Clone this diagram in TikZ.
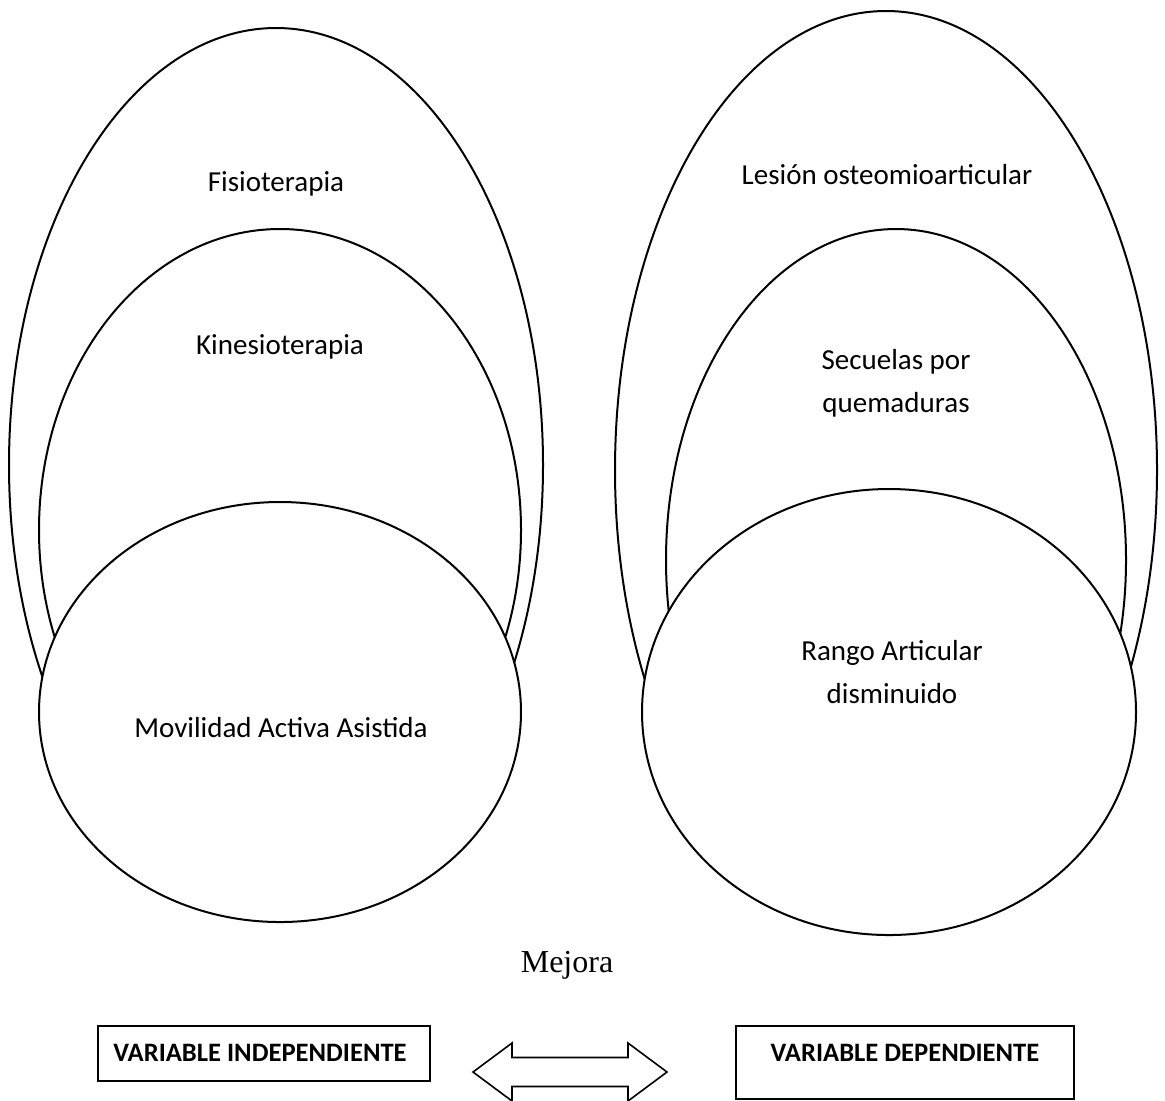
\documentclass[tikz,border=0pt]{standalone}
\usepackage{fontspec}
\setmainfont{Carlito}
\newfontfamily\timesfont{Liberation Serif}
\usetikzlibrary{shapes.geometric, positioning}

\begin{document}
\begin{tikzpicture}[
    x=0.5pt, y=-0.5pt,
    ring/.style={ellipse, draw=black, line width=1pt, fill=white, inner sep=0pt},
    lbl/.style={font=\fontsize{14.5}{21.5}\selectfont, align=center, inner sep=0pt},
    varbox/.style={rectangle, draw=black, line width=1.2pt, inner sep=0pt},
    boxtxt/.style={font=\fontsize{13.3}{16}\selectfont\bfseries, inner sep=0pt},
    fatarr/.style={draw=black, line width=0.8pt, line join=miter}
]
\useasboundingbox (0,0) rectangle (1165,1100);

% Left group
\node[ring, minimum width=267pt, minimum height=437pt] (fisio) at (276,465) {};
\node[ring, minimum width=241pt, minimum height=301pt] (kine) at (280,530) {};
\node[ring, minimum width=241pt, minimum height=210pt] (movil) at (280,712) {};

\node[lbl] (fisiotxt) at (276,184) {Fisioterapia};
\node[lbl] (kinetxt) at (280,347) {Kinesioterapia};
\node[lbl] (moviltxt) at (281,728) {Movilidad Activa Asistida};

% Right group
\node[ring, minimum width=271pt, minimum height=459pt] (lesion) at (886,470) {};
\node[ring, minimum width=230pt, minimum height=331pt] (secuela) at (896,560) {};
\node[ring, minimum width=247pt, minimum height=223pt] (rango) at (889,712) {};

\node[lbl] (lesiontxt) at (887,175) {Lesión osteomioarticular};
\node[lbl] (secuelatxt) at (896,383) {Secuelas por\\quemaduras};
\node[lbl] (rangotxt) at (892,672) {Rango Articular\\disminuido};

% Mejora
\node[font=\timesfont\fontsize{16}{19}\selectfont, inner sep=0pt] (mejora) at (567,965) {Mejora};

% Variable boxes
\node[varbox, minimum width=166pt, minimum height=27.5pt] (indbox) at (264,1053.5) {};
\node[boxtxt] (indtxt) at (260,1053) {VARIABLE INDEPENDIENTE};
\node[varbox, minimum width=169pt, minimum height=36.5pt] (depbox) at (905,1062.5) {};
\node[boxtxt] (deptxt) at (905,1053) {VARIABLE DEPENDIENTE};

% Double arrow
\coordinate (arr) at (570,1072);
\draw[fatarr] (arr) ++(-97,0) -- ++(39,-29) -- ++(0,14.5) -- ++(116,0) -- ++(0,-14.5)
    -- ++(39,29) -- ++(-39,29) -- ++(0,-14.5) -- ++(-116,0) -- ++(0,14.5) -- cycle;

\end{tikzpicture}
\end{document}
